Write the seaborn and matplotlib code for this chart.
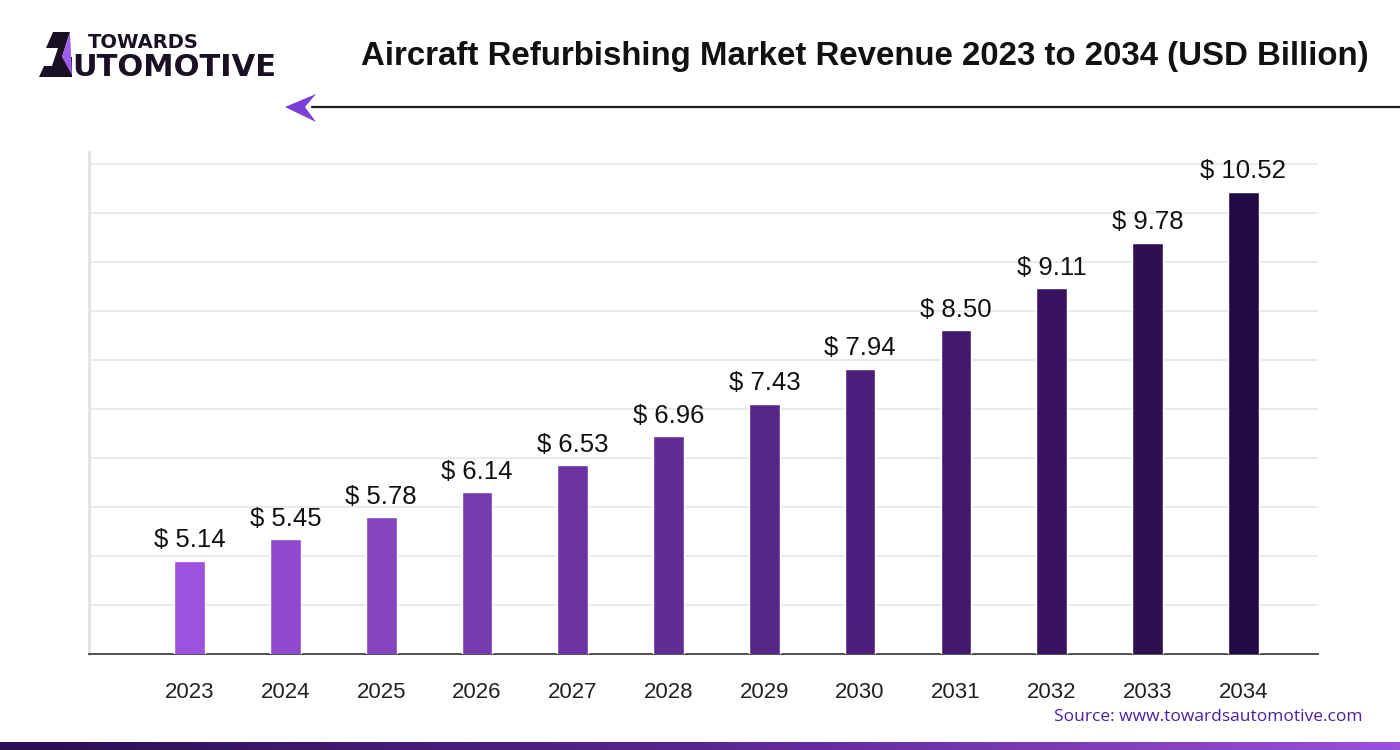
import numpy as np
import pandas as pd
import seaborn as sns
import matplotlib.pyplot as plt
from matplotlib.colors import LinearSegmentedColormap
from matplotlib.patches import Polygon

# data
years = ['2023', '2024', '2025', '2026', '2027', '2028',
         '2029', '2030', '2031', '2032', '2033', '2034']
revenue = [5.14, 5.45, 5.78, 6.14, 6.53, 6.96, 7.43, 7.94, 8.50, 9.11, 9.78, 10.52]

title = 'Aircraft Refurbishing Market Revenue 2023 to 2034 (USD Billion)'
source = 'Source: www.towardsautomotive.com'

df = pd.DataFrame({'year': years, 'revenue': revenue})

sns.set_style('white')
plt.rcParams['font.family'] = ['Liberation Sans', 'DejaVu Sans']

# purple gradient, light to dark
cmap = LinearSegmentedColormap.from_list('purp', ['#9D52DD', '#6E36A6', '#4A1D78', '#220A44'])
colors = [cmap(i / (len(years) - 1)) for i in range(len(years))]

fig = plt.figure(figsize=(14, 7.5), dpi=100)
ax = fig.add_axes([0.0636, 0.128, 0.8778, 0.6693])

sns.barplot(data=df, x='year', y='revenue', hue='year', palette=colors,
            legend=False, width=0.32, saturation=1, ax=ax, zorder=3)

ylo, yhi = 3.78, 11.1
step = 0.714
ax.set_ylim(ylo, yhi)
ax.set_xlim(-1.05, 11.78)
ax.set_yticks(ylo + step * np.arange(11))
ax.set_yticklabels([])
ax.grid(axis='y', color='#e6e6e6', linewidth=1.2, zorder=0)
ax.tick_params(axis='both', length=0)
ax.tick_params(axis='x', pad=20, labelsize=16, labelcolor='#222222')
ax.set_xlabel('')
ax.set_ylabel('')

for s in ['top', 'right']:
    ax.spines[s].set_visible(False)
ax.spines['left'].set_color('#e2e2e2')
ax.spines['left'].set_linewidth(2)
ax.spines['bottom'].set_color('#444444')
ax.spines['bottom'].set_linewidth(1.3)

for c in ax.containers:
    ax.bar_label(c, labels=[f'$ {v:.2f}' for v in c.datavalues],
                 padding=6, fontsize=18.5, color='#111111')

# title
fig.text(865 / 1400, 1 - 57 / 750, title, ha='center', va='center',
         fontsize=23.8, fontweight='bold', color='#111111')

# arrow line under title
fig.add_artist(plt.Line2D([312 / 1400, 1.0], [1 - 107 / 750] * 2,
                          transform=fig.transFigure, color='#1a1a1a', lw=1.6))
head = [(285, 107), (316, 94), (305, 107), (316, 122)]
fig.add_artist(Polygon([(x / 1400, 1 - y / 750) for x, y in head], closed=True,
                       transform=fig.transFigure, color='#7B3FD6', lw=0))

# logo
dark = [(53, 32), (70, 32), (62, 57), (72, 57), (72, 77), (39, 77), (44, 66), (52, 66), (58, 48), (46, 48)]
fig.add_artist(Polygon([(x / 1400, 1 - y / 750) for x, y in dark], closed=True,
                       transform=fig.transFigure, color='#1A1024', lw=0))
tri = [(70, 33), (62, 57), (72, 75)]
fig.add_artist(Polygon([(x / 1400, 1 - y / 750) for x, y in tri], closed=True,
                       transform=fig.transFigure, color='#A05CF0', lw=0))
fig.text(88 / 1400, 1 - 43 / 750, 'TOWARDS', ha='left', va='center',
         fontsize=14, fontweight='heavy', color='#1A1024', family=['DejaVu Sans'])
fig.text(72 / 1400, 1 - 67 / 750, 'UTOMOTIVE', ha='left', va='center',
         fontsize=22, fontweight='heavy', color='#1A1024', family=['DejaVu Sans'])

# source
fig.text(1362 / 1400, 1 - 717 / 750, source, ha='right', va='center',
         fontsize=12.5, color='#4B1FA0', family=['Open Sans', 'DejaVu Sans'])

# bottom gradient band
band = fig.add_axes([0, 0, 1, 8 / 750])
band.imshow(np.linspace(0, 1, 256)[None, :], aspect='auto',
            cmap=LinearSegmentedColormap.from_list('band', ['#2A0E52', '#5A2590', '#9B50DB']))
band.axis('off')

fig.savefig('out.png', dpi=100)
